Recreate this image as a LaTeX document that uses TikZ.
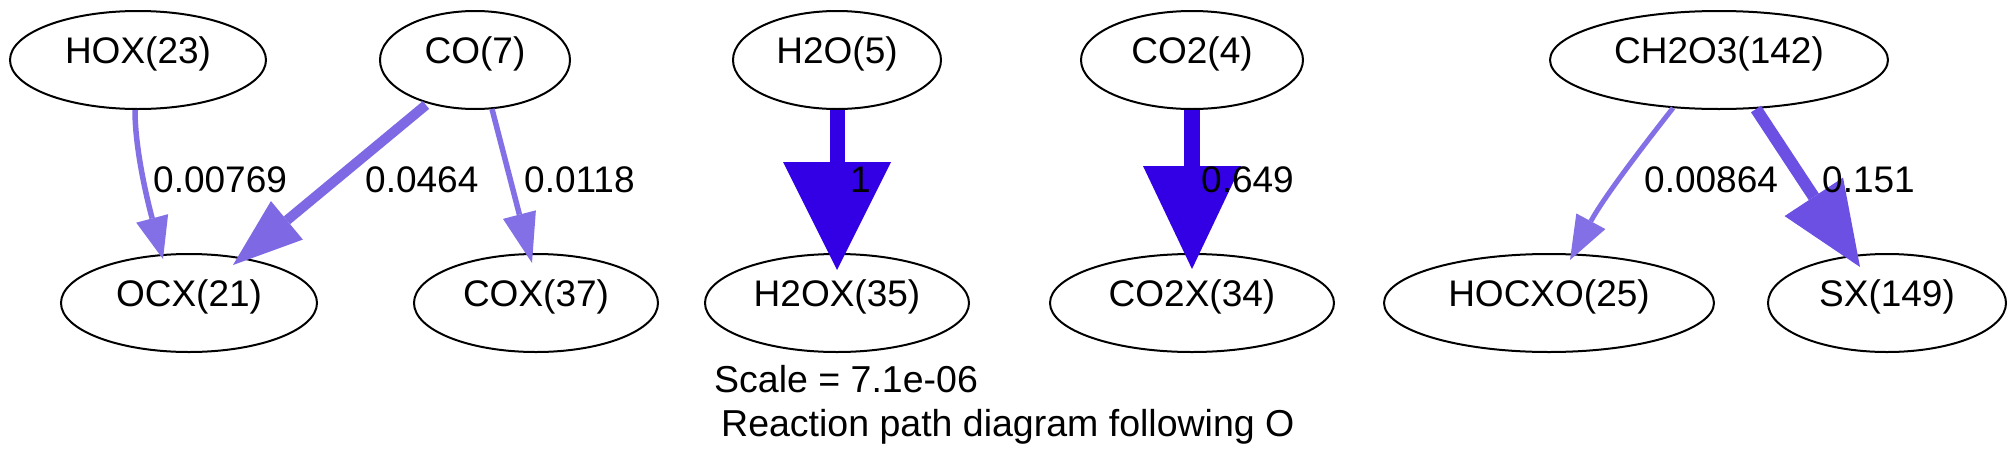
\documentclass[tikz,border=0pt]{standalone}
\usepackage{fontspec}
\setmainfont{Liberation Sans}
\usetikzlibrary{arrows.meta,calc,shapes.geometric}
\definecolor{elight}{RGB}{132,112,230}
\definecolor{emid}{RGB}{126,104,228}
\definecolor{esx}{RGB}{108,80,228}
\definecolor{edark}{RGB}{51,0,230}
\begin{document}
\begin{tikzpicture}[x=1pt,y=-1pt,
  sp/.style={draw=black,line width=2pt,ellipse,inner sep=0pt,minimum height=98pt,
    font=\fontsize{37}{44}\selectfont,text height=0.8em,text depth=0.17em},
  lbl/.style={anchor=west,inner sep=0pt,font=\fontsize{37}{44}\selectfont},
  ttl/.style={anchor=base west,inner sep=0pt,font=\fontsize{37.5}{44}\selectfont},
  eg/.style n args={4}{draw=#1,line width=#2,-{Triangle[length=#3,width=#4,line width=0pt]}}]
\useasboundingbox[fill=white] (0,0) rectangle (2014,469);
% top row
\node[sp,minimum width=256pt] (hox) at (138,60) {HOX(23)};
\node[sp,minimum width=190pt] (co) at (475,60) {CO(7)};
\node[sp,minimum width=208pt] (h2o) at (837,60) {H2O(5)};
\node[sp,minimum width=222pt] (co2) at (1192,60) {CO2(4)};
\node[sp,minimum width=338pt] (ch2o3) at (1719,60) {CH2O3(142)};
% bottom row
\node[sp,minimum width=256pt] (ocx) at (189,303) {OCX(21)};
\node[sp,minimum width=244pt] (cox) at (536,303) {COX(37)};
\node[sp,minimum width=264pt] (h2ox) at (837,303) {H2OX(35)};
\node[sp,minimum width=284pt] (co2x) at (1192,303) {CO2X(34)};
\node[sp,minimum width=330pt] (hocxo) at (1549,303) {HOCXO(25)};
\node[sp,minimum width=238pt] (sx) at (1887,303) {SX(149)};
% edges
\draw[eg={elight}{5.5pt}{42pt}{33pt}] ($(hox.center)+(-3,50)$) .. controls +(0,45) and +(-12,-45) .. ($(ocx.center)+(-26,-44)$);
\draw[eg={emid}{10pt}{70pt}{50pt}] ($(co.center)+(-49,45)$) -- ($(ocx.center)+(44,-38)$);
\draw[eg={elight}{5.5pt}{50pt}{34pt}] ($(co.center)+(17,49)$) -- ($(cox.center)+(-4,-40)$);
\draw[eg={edark}{15pt}{108pt}{108pt}] (h2o.south) -- ($(h2ox.center)+(0,-33)$);
\draw[eg={edark}{16pt}{103pt}{98pt}] (co2.south) -- ($(co2x.center)+(0,-34)$);
\draw[eg={elight}{5pt}{44pt}{33pt}] ($(ch2o3.center)+(-46,48)$) .. controls +(-22,28) and +(35,-65) .. ($(hocxo.center)+(21,-43)$);
\draw[eg={esx}{12pt}{84pt}{70pt}] ($(ch2o3.center)+(37,49)$) -- ($(sx.center)+(-27,-36)$);
% edge labels
\node[lbl] (l1) at (153,180) {0.00769};
\node[lbl] (l2) at (365,180) {0.0464};
\node[lbl] (l3) at (524,180) {0.0118};
\node[lbl] (l4) at (850,180) {1};
\node[lbl] (l5) at (1201,180) {0.649};
\node[lbl] (l6) at (1644,180) {0.00864};
\node[lbl] (l7) at (1822,180) {0.151};
% title
\node[ttl] (scale) at (714,392) {Scale = 7.1e-06};
\node[ttl] (title) at (721,436) {Reaction path diagram following O};
\end{tikzpicture}
\end{document}
